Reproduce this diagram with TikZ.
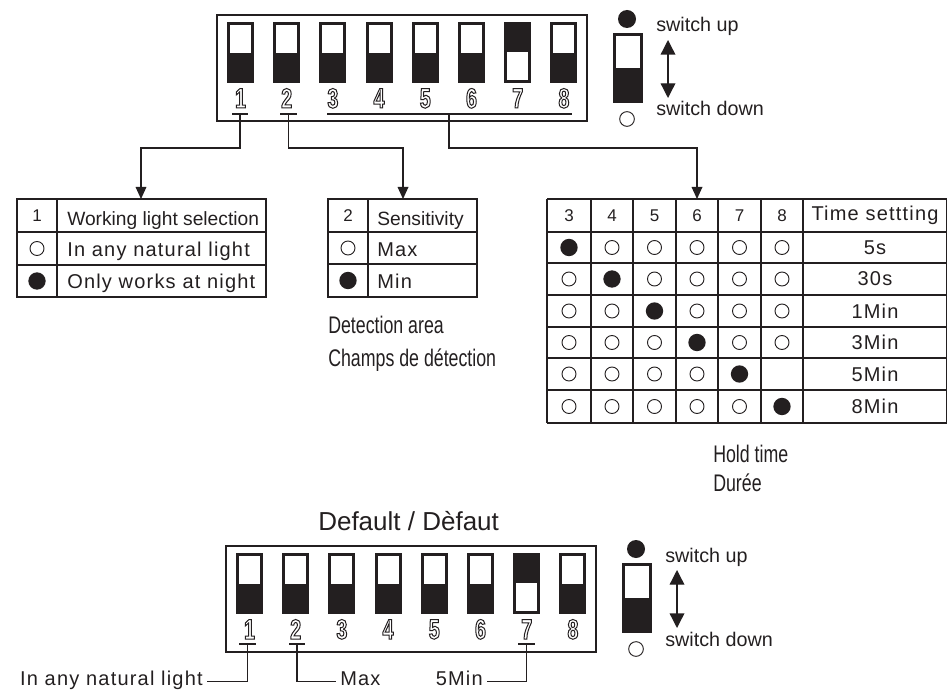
\documentclass[tikz,border=0pt]{standalone}
\usepackage{fontspec}
\setmainfont{Liberation Sans}
\newfontfamily\tabfont[LetterSpace=6]{Liberation Sans}
\newfontfamily\narrowfont[FakeStretch=0.74]{Liberation Sans}
\newfontfamily\digitfont[FakeStretch=0.7]{Liberation Sans Bold}
\usetikzlibrary{arrows.meta}
\definecolor{ink}{HTML}{231F20}

% hollow (stroked) digits under the switches
\newcommand{\outlined}[1]{\special{pdf:literal direct 1 Tr 0.75 w}#1\special{pdf:literal direct 0 Tr}}

% one slide switch: left, top, top of the white part
\newcommand{\dipsw}[3]{%
  \fill[ink] (#1,#2) rectangle ++(27,61);
  \fill[white] (#1+3,#2+#3) rectangle ++(21,28);}

\begin{document}
\begin{tikzpicture}[x=0.75pt,y=-0.75pt,
  every node/.style={inner sep=0pt,text=ink},
  frame/.style={ink,line width=1.1pt},
  grid/.style={ink,line width=0.9pt},
  line/.style={ink,line width=0.9pt},
  link/.style={ink,line width=0.9pt,-{Triangle[length=9pt,width=8pt]}},
  opendot/.style={circle,draw=ink,line width=0.7pt,minimum size=10.5pt},
  fulldot/.style={circle,fill=ink,minimum size=13pt},
  tab/.style={font=\tabfont\fontsize{15}{18}\selectfont},
  plain/.style={font=\fontsize{14.4}{18}\selectfont},
  head/.style={font=\fontsize{12.75}{15}\selectfont},
  legtext/.style={font=\fontsize{14.8}{18}\selectfont},
  note/.style={font=\narrowfont\fontsize{18}{22}\selectfont},
  title/.style={font=\fontsize{19.5}{23}\selectfont},
  dipnum/.style={font=\digitfont\fontsize{21}{24}\selectfont}]
\useasboundingbox (0,0) rectangle (948,695);

% top DIP switch
\draw[frame] (217,15) rectangle (587,121);
\foreach \i in {1,...,8}{
  \pgfmathsetmacro\sx{227+46.2*(\i-1)}
  \pgfmathsetmacro\wy{\i==7 ? 30 : 3}
  \dipsw{\sx}{22}{\wy}
  \node[dipnum,anchor=base] (n\i) at (\sx+13.5,108) {\outlined{\i}};
}
\draw[line] (232,114) -- (248,114);
\draw[line] (280,114) -- (297,114);
\draw[line] (327,114) -- (572,114);

% bottom DIP switch (default)
\draw[frame] (226,546) rectangle (596,652);
\foreach \i in {1,...,8}{
  \pgfmathsetmacro\sx{236+46.2*(\i-1)}
  \pgfmathsetmacro\wy{\i==7 ? 30 : 3}
  \dipsw{\sx}{553}{\wy}
  \node[dipnum,anchor=base] (m\i) at (\sx+13.5,639) {\outlined{\i}};
}
\draw[line] (239,644) -- (256,644);
\draw[line] (289,644) -- (305,644);
\draw[line] (518,644) -- (535,644);

% switch up / down legends
\foreach \dx/\dy/\t in {0/0/a,9/530/b}{
  \node[fulldot,minimum size=13.5pt] (on\t) at (627+\dx,19+\dy) {};
  \fill[ink] (613+\dx,33+\dy) rectangle ++(30,70);
  \fill[white] (616+\dx,36+\dy) rectangle ++(24,32);
  \node[opendot,minimum size=11pt] (off\t) at (627+\dx,119+\dy) {};
  \draw[ink,line width=1pt,{Triangle[length=11pt,width=11pt]}-{Triangle[length=11pt,width=11pt]}]
    (668+\dx,40+\dy) -- (668+\dx,98+\dy);
  \node[legtext,anchor=base west] (up\t) at (656+\dx,32+\dy) {switch up};
  \node[legtext,anchor=base west] (down\t) at (656+\dx,116+\dy) {switch down};
}

% connectors to the tables
\coordinate (u1) at (240,114); \coordinate (t1) at (141,199);
\coordinate (u2) at (288.5,114); \coordinate (t2) at (403,199);
\coordinate (u3) at (449,114); \coordinate (t3) at (697,199);
\draw[link] (u1) -- ++(0,34) -| (t1);
\draw[link] (u2) -- ++(0,34) -| (t2);
\draw[link] (u3) -- ++(0,34) -| (t3);

% table 1
\draw[grid] (17,199) rectangle (266,297);
\draw[grid] (17,232) -- (266,232);
\draw[grid] (17,265) -- (266,265);
\draw[grid] (57,199) -- (57,297);
\node[head] (k1) at (37,215.5) {1};
\node[plain,anchor=base west] (work) at (67,225) {Working light selection};
\node[opendot] (k1a) at (37,248.5) {};
\node[tab,anchor=base west] (anylight) at (67,256) {In any natural light};
\node[fulldot] (k1b) at (37,281) {};
\node[tab,anchor=base west] (night) at (67,288) {Only works at night};

% table 2
\draw[grid] (328,199) rectangle (477,297);
\draw[grid] (328,232) -- (477,232);
\draw[grid] (328,264) -- (477,264);
\draw[grid] (368,199) -- (368,297);
\node[head] (k2) at (348,215.5) {2};
\node[plain,anchor=base west] (sens) at (377,225) {Sensitivity};
\node[opendot] (k2a) at (348,248) {};
\node[tab,anchor=base west] (smax) at (377,256) {Max};
\node[fulldot] (k2b) at (348,280.5) {};
\node[tab,anchor=base west] (smin) at (377,288) {Min};

\node[note,anchor=base west] (area) at (328,333) {Detection area};
\node[note,anchor=base west] (champ) at (328,366) {Champs de détection};

% table 3
\foreach \x in {547,591,633,676,718,761,803,946.5}
  \draw[grid] (\x,199) -- (\x,423);
\foreach \y in {199,232,263,295,327,358,390,423}
  \draw[grid] (547,\y) -- (946.5,\y);
\foreach \c/\x in {3/569,4/612,5/654.5,6/697,7/739.5,8/782}
  \node[head] (h\c) at (\x,215.5) {\c};
\node[tab] (tset) at (875,215.5) {Time settting};
\foreach \r/\y/\t in {1/247.5/5s,2/279/30s,3/311/1Min,4/342.5/3Min,5/374/5Min,6/406.5/8Min}{
  \node[tab] (time\r) at (875,\y) {\t};
  \foreach \c/\x in {3/569,4/612,5/654.5,6/697,7/739.5,8/782}{
    \pgfmathtruncatemacro\k{\c-2}
    \ifnum\k=\r \node[fulldot] (d\r-\c) at (\x,\y) {};
    \else\ifnum\r\c=58 \else \node[opendot] (d\r-\c) at (\x,\y) {};\fi\fi
  }
}

\node[note,anchor=base west] (hold) at (713,462) {Hold time};
\node[note,anchor=base west] (duree) at (713,491) {Durée};

% default settings
\node[title,anchor=base west] (deflt) at (318,530) {Default / Dèfaut};
\coordinate (v1) at (247.5,644);
\coordinate (v2) at (297,644);
\coordinate (v7) at (526.5,644);
\node[tab,anchor=base east,inner xsep=3pt] (lightlbl) at (207,685) {In any natural light};
\node[tab,anchor=base west,inner xsep=3pt] (maxlbl) at (336,685) {Max};
\node[tab,anchor=base east,inner xsep=3pt] (minlbl) at (487,685) {5Min};
\draw[line] (v1) |- (lightlbl.mid east);
\draw[line] (v2) |- (maxlbl.mid west);
\draw[line] (v7) |- (minlbl.mid east);
\end{tikzpicture}
\end{document}
